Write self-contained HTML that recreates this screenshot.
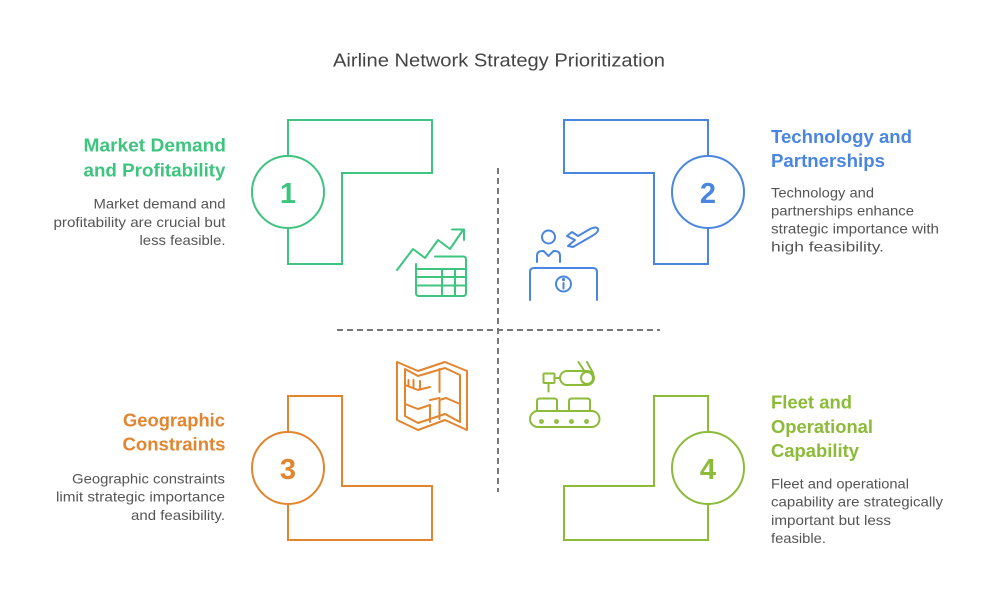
<!DOCTYPE html>
<html><head><meta charset="utf-8"><style>
html,body{margin:0;padding:0;background:#fff;}
svg{display:block;}
text{font-family:"Liberation Sans",Arial,sans-serif;}
</style></head><body>
<svg width="1000" height="613" viewBox="0 0 1000 613" xmlns="http://www.w3.org/2000/svg">
<rect width="1000" height="613" fill="#fff"/>
<text x="333" y="66.5" font-size="18" fill="#444" textLength="332" lengthAdjust="spacingAndGlyphs">Airline Network Strategy Prioritization</text>

<!-- dashed axes -->
<line x1="498" y1="168" x2="498" y2="492" stroke="#777" stroke-width="2" stroke-dasharray="6,4"/>
<line x1="337" y1="330" x2="660" y2="330" stroke="#777" stroke-width="2" stroke-dasharray="6,4"/>

<!-- shape 1 green -->
<g fill="none" stroke="#3dc47e" stroke-width="2">
<path d="M288,120 H432 V173 H342 V264 H288 Z"/>
<circle cx="288" cy="192" r="36" fill="#fff"/>
</g>
<text x="288" y="203" font-size="29" font-weight="bold" fill="#3dc47e" text-anchor="middle">1</text>

<!-- shape 2 blue -->
<g fill="none" stroke="#4a86e0" stroke-width="2">
<path d="M564,120 H708 V264 H654 V173 H564 Z"/>
<circle cx="708" cy="192" r="36" fill="#fff"/>
</g>
<text x="708" y="203" font-size="29" font-weight="bold" fill="#4a86e0" text-anchor="middle">2</text>

<!-- shape 3 orange -->
<g fill="none" stroke="#e2852f" stroke-width="2">
<path d="M288,396 H342 V486 H432 V540 H288 Z"/>
<circle cx="288" cy="468" r="36" fill="#fff"/>
</g>
<text x="288" y="479" font-size="29" font-weight="bold" fill="#e2852f" text-anchor="middle">3</text>

<!-- shape 4 lime -->
<g fill="none" stroke="#8cbb3a" stroke-width="2">
<path d="M654,396 H708 V540 H564 V486 H654 Z"/>
<circle cx="708" cy="468" r="36" fill="#fff"/>
</g>
<text x="708" y="479" font-size="29" font-weight="bold" fill="#8cbb3a" text-anchor="middle">4</text>

<!-- icon 1: chart + table -->
<g fill="none" stroke="#3dc47e" stroke-width="2" stroke-linejoin="round" stroke-linecap="round">
<polyline points="397,270 413,249 425,258 438,240 450,249 463,230"/>
<polyline points="452,229.5 464,229.5 464,240"/>
<path d="M435,256.5 H463 Q466,256.5 466,259.5 V293 Q466,296 463,296 H419 Q416,296 416,293 V264"/>
<line x1="416" y1="269" x2="466" y2="269"/>
<line x1="416" y1="277" x2="466" y2="277"/>
<line x1="416" y1="285.5" x2="466" y2="285.5"/>
<line x1="442" y1="269" x2="442" y2="296"/>
<line x1="455" y1="269" x2="455" y2="296"/>
</g>

<!-- icon 2: person at desk + plane -->
<g fill="none" stroke="#4a86e0" stroke-width="2" stroke-linejoin="round" stroke-linecap="round">
<circle cx="548.5" cy="237" r="6.5"/>
<path d="M537,262 V256 Q537,251 542,251 H543.5 L548.5,256 L553.5,251 H555 Q560,251 560,256 V262"/>
<path d="M530,300 V272 Q530,268 534,268 H593 Q597,268 597,272 V300"/>
<circle cx="563.5" cy="284" r="7.5"/>
<line x1="563.5" y1="283" x2="563.5" y2="288.5"/>
<circle cx="563.5" cy="279.5" r="0.6" fill="#4a86e0"/>
<path d="M567,236 L572,232 L578,236 L590,229 Q597,226 598,229 Q599,232 592,236 L573,247 L568,246 L575,240 Z"/>
</g>

<!-- icon 3: map -->
<g fill="none" stroke="#e2852f" stroke-width="2" stroke-linejoin="round" stroke-linecap="round">
<path d="M397,362 L418,371 L445,362 L467,371 V430 L445,420 L418,430 L397,420 Z"/>
<path d="M405,369 L418,376 L445,368 L460,375 V422 L445,414 L418,423 L405,416 Z"/>
<path d="M405,385 L418,390 L430,387"/>
<line x1="408.5" y1="380" x2="408.5" y2="386.5"/>
<line x1="413.5" y1="380" x2="413.5" y2="388.5"/>
<line x1="420" y1="381" x2="420" y2="389.5"/>
<line x1="439.5" y1="369" x2="439.5" y2="392"/>
<path d="M439.5,419 V400 L446,398 L460,404"/>
<path d="M405,404 L418,409 L430,405 V422"/>
<path d="M430,400 L439.5,398"/>
</g>

<!-- icon 4: robotic arm + conveyor -->
<g fill="none" stroke="#8cbb3a" stroke-width="2" stroke-linejoin="round" stroke-linecap="round">
<rect x="543.5" y="373.5" width="11" height="9.5" rx="1"/>
<line x1="548.5" y1="383" x2="548.5" y2="391.5"/>
<line x1="554.5" y1="378" x2="560" y2="378"/>
<rect x="560" y="371" width="34" height="14" rx="7"/>
<circle cx="587" cy="378" r="6"/>
<line x1="578.5" y1="362" x2="585" y2="372"/>
<line x1="587" y1="362" x2="593" y2="373"/>
<path d="M537,411 V401 Q537,398.5 540,398.5 H554 Q557,398.5 557,401 V411"/>
<path d="M569,411 V401 Q569,398.5 572,398.5 H587 Q590,398.5 590,401 V411"/>
<rect x="530" y="411" width="69.5" height="16" rx="8"/>
<circle cx="541.5" cy="421.5" r="1.4"/>
<circle cx="556.5" cy="421.5" r="1.4"/>
<circle cx="571.5" cy="421.5" r="1.4"/>
<circle cx="586.5" cy="421.5" r="1.4"/>
</g>

<!-- text 1 -->
<g font-weight="bold" font-size="18" fill="#3dc47e">
<text x="83.5" y="151.5" textLength="142.5" lengthAdjust="spacingAndGlyphs">Market Demand</text>
<text x="83.5" y="176.5" textLength="142" lengthAdjust="spacingAndGlyphs">and Profitability</text>
</g>
<g font-size="14" fill="#555">
<text x="93.5" y="208.5" textLength="132" lengthAdjust="spacingAndGlyphs">Market demand and</text>
<text x="53.5" y="227" textLength="172" lengthAdjust="spacingAndGlyphs">profitability are crucial but</text>
<text x="139.5" y="245" textLength="86" lengthAdjust="spacingAndGlyphs">less feasible.</text>
</g>

<!-- text 2 -->
<g font-weight="bold" font-size="18" fill="#4a86e0">
<text x="771" y="143" textLength="141" lengthAdjust="spacingAndGlyphs">Technology and</text>
<text x="771" y="167" textLength="114" lengthAdjust="spacingAndGlyphs">Partnerships</text>
</g>
<g font-size="14" fill="#555">
<text x="771" y="197.5" textLength="103" lengthAdjust="spacingAndGlyphs">Technology and</text>
<text x="771" y="215.5" textLength="143" lengthAdjust="spacingAndGlyphs">partnerships enhance</text>
<text x="771" y="233.5" textLength="168" lengthAdjust="spacingAndGlyphs">strategic importance with</text>
<text x="771" y="251.5" textLength="113" lengthAdjust="spacingAndGlyphs">high feasibility.</text>
</g>

<!-- text 3 -->
<g font-weight="bold" font-size="18" fill="#e2852f">
<text x="123" y="426.5" textLength="102" lengthAdjust="spacingAndGlyphs">Geographic</text>
<text x="122.5" y="450.5" textLength="103" lengthAdjust="spacingAndGlyphs">Constraints</text>
</g>
<g font-size="14" fill="#555">
<text x="72" y="483.5" textLength="153" lengthAdjust="spacingAndGlyphs">Geographic constraints</text>
<text x="56" y="501.5" textLength="169" lengthAdjust="spacingAndGlyphs">limit strategic importance</text>
<text x="131" y="520" textLength="94" lengthAdjust="spacingAndGlyphs">and feasibility.</text>
</g>

<!-- text 4 -->
<g font-weight="bold" font-size="18" fill="#8cbb3a">
<text x="771" y="408.5" textLength="81" lengthAdjust="spacingAndGlyphs">Fleet and</text>
<text x="771" y="433" textLength="102" lengthAdjust="spacingAndGlyphs">Operational</text>
<text x="771" y="457" textLength="88" lengthAdjust="spacingAndGlyphs">Capability</text>
</g>
<g font-size="14" fill="#555">
<text x="771" y="488.5" textLength="138" lengthAdjust="spacingAndGlyphs">Fleet and operational</text>
<text x="771" y="506.5" textLength="172" lengthAdjust="spacingAndGlyphs">capability are strategically</text>
<text x="771" y="525" textLength="120" lengthAdjust="spacingAndGlyphs">important but less</text>
<text x="771" y="543" textLength="55" lengthAdjust="spacingAndGlyphs">feasible.</text>
</g>
</svg>
</body></html>
